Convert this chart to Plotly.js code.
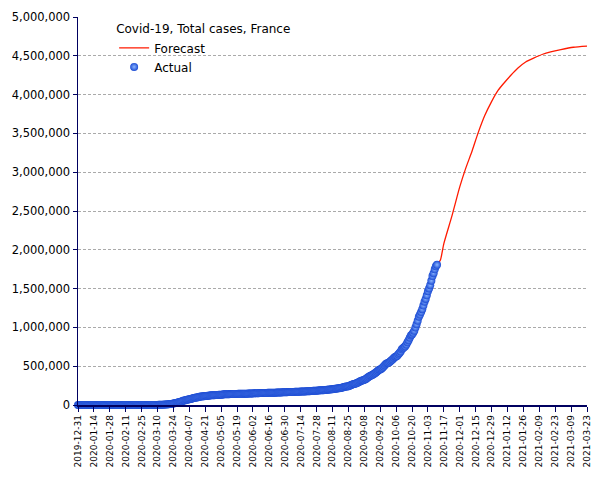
<!DOCTYPE html>
<html>
<head>
<meta charset="utf-8">
<script src="https://cdn.plot.ly/plotly-3.0.1.min.js"></script>
<style>html,body{margin:0;padding:0;background:#fff;}#chart{width:605px;height:480px;}</style>
</head>
<body>
<div id="chart"></div>
<script>
// ---- Data ----
const actualStart = '2019-12-31';
const casesDec2019 = [0];
const casesJan = [0,0,0,0,0,0,0,0,0,0,0,0,0,0,0,0,0,0,0,0,0,0,0,3,3,3,3,4,5,5,6];
const casesFeb = [6,6,6,6,6,6,6,11,11,11,11,11,11,11,12,12,12,12,12,12,12,12,12,12,12,14,18,38,57];
const casesMar = [100,130,191,212,285,423,613,949,1126,1412,1784,2281,2876,3661,4499,5423,6633,7730,9134,10995,12612,14459,16689,19856,22304,25233,29155,32964,37575,40174,44550];
const casesApr = [52128,56989,59105,64338,68605,70478,74390,78167,82048,86334,90276,93790,95403,98076,103573,106206,108847,109252,111821,112606,114657,117324,119151,120804,122577,124114,124575,125770,126835,128339];
const casesMay = [129581,130185,130979,131287,131863,132967,137150,137779,138421,138854,139063,139519,140227,140734,141356,141919,142291,142411,142903,143427,143845,144163,144556,144806,145279,145555,145746,146122,146651,147500,148000];
const casesJun = [148500,149500,151000,151300,152000,152400,153000,153100,153600,154200,154600,155100,155600,156000,156300,156600,157200,157700,158200,158600,159100,159400,159800,160600,161200,161900,162400,162900,163300,164000];
const casesJul = [164800,165700,166400,166900,167400,167600,168300,168900,169500,170100,170700,171300,171700,172400,173000,173800,174600,175400,176200,176800,177700,178700,180200,181600,183000,183700,184500,185000,186000,187400,188700];
const casesAug = [190000,190800,191500,192500,194000,195600,197300,199500,201000,202000,203300,205500,208000,210800,213600,215900,217000,219000,222500,226300,230800,234800,238000,240000,243000,248000,253700,261000,267000,272000,275000];
const casesSep = [279000,286000,293000,302000,310000,317000,320000,324000,333000,343000,353000,363000,373000,380000,386000,395000,405000,415000,428000,442000,453000,458000,468000,481000,497000,513000,527000,538000,542000,550000];
const casesOct = [563000,577000,589000,606000,619000,624000,635000,653000,671000,691000,718000,732000,743000,756000,779000,809000,834000,867000,897000,910000,930000,957000,999000,1041000,1086000,1138000,1165000,1198000,1235000,1282000,1331000];
const casesNov = [1367000,1413000,1466000,1502000,1543000,1601000,1661000,1698000,1748000,1787000,1807000];

const forecastDates = ['2020-11-11','2020-11-14','2020-11-17','2020-11-24','2020-12-01','2020-12-06','2020-12-12','2020-12-17','2020-12-23','2020-12-29','2021-01-04','2021-01-09','2021-01-15','2021-01-21','2021-01-28','2021-02-04','2021-02-12','2021-02-19','2021-02-28','2021-03-11','2021-03-23'];
const forecastValues = [1807000,1870000,2080000,2430000,2810000,3040000,3280000,3500000,3730000,3910000,4060000,4150000,4250000,4340000,4420000,4470000,4520000,4550000,4580000,4610000,4625000];

const xTickLabels = ['2019-12-31','2020-01-14','2020-01-28','2020-02-11','2020-02-25','2020-03-10','2020-03-24','2020-04-07','2020-04-21','2020-05-05','2020-05-19','2020-06-02','2020-06-16','2020-06-30','2020-07-14','2020-07-28','2020-08-11','2020-08-25','2020-09-08','2020-09-22','2020-10-06','2020-10-20','2020-11-03','2020-11-17','2020-12-01','2020-12-15','2020-12-29','2021-01-12','2021-01-26','2021-02-09','2021-02-23','2021-03-09','2021-03-23'];
const yTickVals = [0,500000,1000000,1500000,2000000,2500000,3000000,3500000,4000000,4500000,5000000];

const chartTitle = 'Covid-19, Total cases, France';
const seriesNames = ['Forecast','Actual'];

// ---- Build ----
const actualValues = [].concat(casesDec2019,casesJan,casesFeb,casesMar,casesApr,casesMay,casesJun,casesJul,casesAug,casesSep,casesOct,casesNov);
const t0 = Date.UTC(2019,11,31);
const actualDates = actualValues.map((v,i)=>{
  const d = new Date(t0 + i*86400000);
  return d.toISOString().slice(0,10);
});

const axisColor = '#000060';
const font = 'DejaVu Sans, Verdana, sans-serif';

const traces = [
  {
    x: forecastDates, y: forecastValues, name: seriesNames[0],
    type: 'scatter', mode: 'lines',
    line: {color: '#ff1a00', width: 1.3, shape: 'spline', smoothing: 0.6},
    cliponaxis: false
  },
  {
    x: actualDates, y: actualValues, name: seriesNames[1],
    type: 'scatter', mode: 'markers',
    marker: {size: 8, color: '#1c4cd4', line: {width: 0},
             gradient: {type: 'radial', color: '#8cb6ff'}},
    cliponaxis: false
  }
];

const layout = {
  width: 605, height: 480,
  margin: {l: 78, r: 18, t: 17, b: 75},
  paper_bgcolor: '#ffffff', plot_bgcolor: '#ffffff',
  font: {family: font, color: '#000'},
  showlegend: true,
  legend: {
    x: 0.071, y: 0.998, xanchor: 'left', yanchor: 'top',
    bgcolor: 'rgba(0,0,0,0)',
    font: {family: font, size: 12, color: '#000'},
    title: {text: chartTitle, font: {family: font, size: 12, color: '#000'}},
    itemwidth: 30, tracegroupgap: 0
  },
  xaxis: {
    type: 'date',
    range: [xTickLabels[0], xTickLabels[xTickLabels.length-1]],
    tickvals: xTickLabels, ticktext: xTickLabels,
    tickangle: -90,
    tickfont: {family: font, size: 9, color: '#000'},
    ticks: 'outside', ticklen: 5, tickcolor: axisColor, tickwidth: 1,
    showline: true, linecolor: axisColor, linewidth: 1.5,
    showgrid: false, zeroline: false,
    fixedrange: true
  },
  yaxis: {
    range: [0, 5000000],
    tickvals: yTickVals, tickformat: ',d',
    tickfont: {family: font, size: 11.5, color: '#000'},
    ticks: 'outside', ticklen: 4, tickcolor: axisColor, tickwidth: 1,
    showline: true, linecolor: axisColor, linewidth: 1.5,
    showgrid: true, gridcolor: '#aaaaaa', gridwidth: 1, griddash: '3px,2px',
    zeroline: false,
    fixedrange: true
  }
};

Plotly.newPlot('chart', traces, layout, {displayModeBar: false, staticPlot: true});
</script>
</body>
</html>
